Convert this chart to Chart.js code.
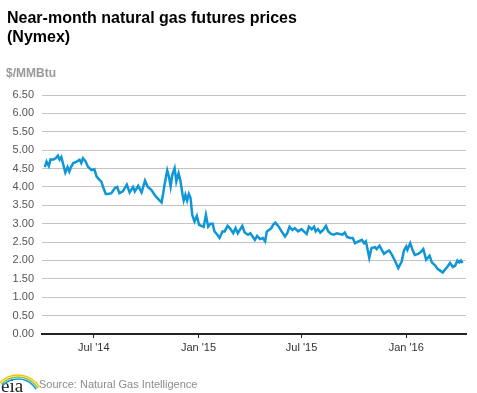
<!DOCTYPE html>
<html>
<head>
<meta charset="utf-8">
<script src="https://cdn.jsdelivr.net/npm/chart.js@4.4.1/dist/chart.umd.min.js"></script>
<style>
  html, body { margin: 0; padding: 0; background: #fff; }
</style>
</head>
<body>
<canvas id="myChart" width="477" height="393"></canvas>
<script>
// near-month futures (roughly every few trading days)
const dates = [
  "2014-04-06","2014-04-09","2014-04-13","2014-04-16","2014-04-20","2014-04-25","2014-04-29","2014-05-02","2014-05-05","2014-05-09",
  "2014-05-12","2014-05-16","2014-05-19","2014-05-22","2014-05-26","2014-06-01","2014-06-06","2014-06-09","2014-06-12","2014-06-16",
  "2014-06-21","2014-06-27","2014-07-02","2014-07-06","2014-07-11","2014-07-14","2014-07-18","2014-07-22","2014-07-26","2014-08-01",
  "2014-08-07","2014-08-11","2014-08-15","2014-08-21","2014-08-28","2014-09-02","2014-09-08","2014-09-11","2014-09-17","2014-09-23",
  "2014-09-29","2014-10-04","2014-10-10","2014-10-14","2014-10-19","2014-10-28","2014-10-31","2014-11-02","2014-11-07","2014-11-10",
  "2014-11-13","2014-11-16","2014-11-20","2014-11-23","2014-11-27","2014-11-30","2014-12-04","2014-12-06","2014-12-09","2014-12-12",
  "2014-12-15","2014-12-18","2014-12-21","2014-12-25","2014-12-29","2015-01-02","2015-01-06","2015-01-10","2015-01-14","2015-01-18",
  "2015-01-22","2015-01-26","2015-01-29","2015-02-03","2015-02-07","2015-02-12","2015-02-16","2015-02-21","2015-02-25","2015-03-03",
  "2015-03-07","2015-03-11","2015-03-19","2015-03-23","2015-03-29","2015-04-02","2015-04-06","2015-04-10","2015-04-14","2015-04-19",
  "2015-04-24","2015-04-28","2015-05-01","2015-05-05","2015-05-09","2015-05-12","2015-05-16","2015-05-21","2015-05-27","2015-06-02",
  "2015-06-06","2015-06-10","2015-06-15","2015-06-19","2015-06-25","2015-07-01","2015-07-05","2015-07-10","2015-07-14","2015-07-19",
  "2015-07-23","2015-07-26","2015-07-30","2015-08-03","2015-08-08","2015-08-13","2015-08-17","2015-08-22","2015-08-27","2015-09-01",
  "2015-09-06","2015-09-11","2015-09-15","2015-09-19","2015-09-24","2015-09-29","2015-10-03","2015-10-09","2015-10-15","2015-10-19",
  "2015-10-22","2015-10-24","2015-10-28","2015-11-01","2015-11-07","2015-11-10","2015-11-15","2015-11-19","2015-11-23","2015-11-28",
  "2015-12-02","2015-12-06","2015-12-12","2015-12-18","2015-12-24","2015-12-28","2016-01-01","2016-01-03","2016-01-08","2016-01-12",
  "2016-01-16","2016-01-22","2016-01-26","2016-01-31","2016-02-05","2016-02-11","2016-02-15","2016-02-21","2016-02-25","2016-02-29",
  "2016-03-05","2016-03-09","2016-03-13","2016-03-18","2016-03-23","2016-03-27","2016-03-31","2016-04-03","2016-04-06","2016-04-09"
];
const prices = [
  4.54,4.69,4.57,4.75,4.74,4.78,4.85,4.74,4.81,4.57,
  4.39,4.54,4.42,4.54,4.65,4.69,4.74,4.65,4.78,4.71,
  4.54,4.46,4.48,4.28,4.19,4.15,3.97,3.81,3.81,3.83,
  3.97,4.00,3.83,3.88,4.06,3.85,4.00,3.88,4.03,3.85,
  4.17,4.00,3.92,3.83,3.72,3.58,3.83,4.03,4.45,4.28,
  4.01,4.33,4.51,4.15,4.37,4.19,3.79,3.63,3.79,3.63,
  3.81,3.70,3.24,3.06,3.21,2.97,2.94,2.91,3.24,2.92,
  3.00,3.00,2.79,2.70,2.61,2.79,2.79,2.94,2.88,2.74,
  2.88,2.74,2.94,2.76,2.70,2.74,2.65,2.56,2.67,2.58,
  2.61,2.52,2.79,2.83,2.88,2.97,3.03,2.94,2.79,2.65,
  2.74,2.92,2.83,2.88,2.79,2.85,2.79,2.72,2.92,2.85,
  2.92,2.79,2.85,2.76,2.83,2.94,2.79,2.72,2.70,2.74,
  2.72,2.70,2.76,2.64,2.61,2.61,2.47,2.52,2.56,2.47,
  2.52,2.38,2.07,2.34,2.36,2.31,2.40,2.29,2.18,2.24,
  2.27,2.18,2.00,1.79,1.97,2.27,2.38,2.29,2.47,2.29,
  2.15,2.18,2.22,2.31,2.02,2.13,1.95,1.86,1.77,1.73,
  1.67,1.75,1.82,1.93,1.82,1.86,2.00,1.95,2.00,1.93
];
const tickDates = ["2014-07-01", "2015-01-01", "2015-07-01", "2016-01-01"];
const tickLabels = ["Jul '14", "Jan '15", "Jul '15", "Jan '16"];
const xStart = "2014-04-01";
const xEnd = "2016-04-15";

const titleLines = ["Near-month natural gas futures prices", "(Nymex)"];
const unitLabel = "$/MMBtu";
const sourceText = "Source: Natural Gas Intelligence";

const FONT = "'Liberation Sans', Arial, Helvetica, sans-serif";

function dayNum(s) {
  const p = s.split("-");
  return Date.UTC(+p[0], +p[1] - 1, +p[2]) / 86400000;
}

const points = [];
for (let i = 0; i < Math.min(dates.length, prices.length); i++) {
  points.push({ x: dayNum(dates[i]), y: prices[i] });
}
const tickDays = tickDates.map(dayNum);

// title, unit, source line and the eia mark
const textPlugin = {
  id: "eiaText",
  afterDraw: (chart) => {
    const c = chart.ctx;
    c.save();
    c.textBaseline = "alphabetic";
    c.textAlign = "left";
    c.fillStyle = "#000";
    c.font = "bold 16px " + FONT;
    c.fillText(titleLines[0], 7, 22.5);
    c.fillText(titleLines[1], 7, 41.5);

    c.fillStyle = "#999";
    c.font = "bold 12px " + FONT;
    c.fillText(unitLabel, 6, 77);

    c.fillStyle = "#8c8c8c";
    c.font = "11px " + FONT;
    c.fillText(sourceText, 39, 388);

    c.fillStyle = "#222";
    c.font = "19px 'Liberation Serif', 'DejaVu Serif', serif";
    c.fillText("eia", 1, 392);

    // logo swoosh above the letters
    c.lineCap = "round";
    const arcs = [["#f4c20d", 25], ["#8cc63f", 23], ["#1b9ad6", 21]];
    arcs.forEach(([col, r]) => {
      c.beginPath();
      c.strokeStyle = col;
      c.lineWidth = 1.5;
      c.arc(18, 400, r, Math.PI * 1.25, Math.PI * 1.82);
      c.stroke();
    });
    c.restore();
  },
};

const ctx = document.getElementById("myChart");
var chart = new Chart(ctx, {
  type: "line",
  data: {
    datasets: [
      {
        label: "Near-month",
        data: points,
        borderColor: "#0f96d6",
        borderWidth: 2.5,
        pointRadius: 0,
        tension: 0,
        fill: false,
      },
    ],
  },
  options: {
    responsive: false,
    animation: false,
    layout: { padding: { top: 95, right: 11, bottom: 35, left: 0 } },
    plugins: {
      legend: { display: false },
      tooltip: { enabled: false },
    },
    scales: {
      x: {
        type: "linear",
        min: dayNum(xStart),
        max: dayNum(xEnd),
        afterBuildTicks: (scale) => {
          scale.ticks = tickDays.map((v) => ({ value: v }));
        },
        afterFit: (scale) => {
          scale.height = 24;
        },
        ticks: {
          autoSkip: false,
          maxRotation: 0,
          padding: 3,
          color: "#333",
          font: { family: FONT, size: 11 },
          callback: (v) => {
            const i = tickDays.indexOf(v);
            return i >= 0 ? tickLabels[i] : "";
          },
        },
        grid: { drawOnChartArea: false, drawTicks: true, tickLength: 4, tickColor: "#222" },
        border: { color: "#222", width: 2 },
      },
      y: {
        min: 0,
        max: 6.5,
        afterFit: (scale) => {
          scale.width = 42;
        },
        ticks: {
          stepSize: 0.5,
          padding: 8,
          color: "#555",
          font: { family: FONT, size: 11 },
          callback: (v) => v.toFixed(2),
        },
        grid: { color: "#c4c4c4", drawTicks: false },
        border: { display: false },
      },
    },
  },
  plugins: [textPlugin],
});
</script>
</body>
</html>
